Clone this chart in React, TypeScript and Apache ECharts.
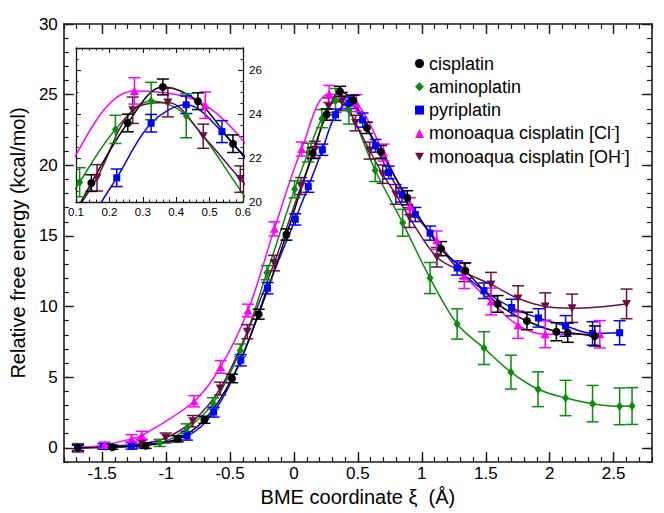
import React, { useEffect, useRef } from 'react';
import * as echarts from 'echarts';

// ---- data (x = BME coordinate, y = free energy, e = error) ----
const cisX = [-1.69, -1.42, -1.16, -0.91, -0.7, -0.485, -0.276, -0.059, 0.146, 0.255, 0.36, 0.465, 0.57, 0.68, 0.886, 1.15, 1.34, 1.593, 1.822, 2.052, 2.141, 2.353];
const cisY = [0, 0.05, 0.16, 0.64, 1.99, 4.91, 9.46, 15.1, 20.86, 23.59, 25.23, 24.58, 22.65, 20.95, 17.7, 14.1, 12.54, 10.19, 8.98, 8.22, 8.15, 7.92];
const cisE = [0.2, 0.15, 0.2, 0.22, 0.25, 0.3, 0.35, 0.4, 0.38, 0.4, 0.36, 0.38, 0.4, 0.45, 0.5, 0.5, 0.55, 0.59, 0.62, 0.64, 0.68, 0.71];

const aminoX = [-1.69, -1.47, -1.05, -0.84, -0.633, -0.42, -0.212, 0.005, 0.111, 0.218, 0.325, 0.43, 0.635, 0.85, 1.064, 1.276, 1.486, 1.697, 1.909, 2.124, 2.335, 2.547, 2.644];
const aminoY = [0, 0.1, 0.35, 1.35, 3.15, 6.9, 12.4, 18.3, 20.9, 23.3, 24.59, 23.92, 19.65, 15.93, 12.02, 8.77, 7.06, 5.36, 4.15, 3.53, 3.13, 2.94, 2.96];
const aminoE = [0.3, 0.2, 0.25, 0.35, 0.4, 0.45, 0.5, 0.6, 0.66, 0.64, 0.85, 1.0, 0.8, 0.95, 1.1, 1.07, 1.16, 1.2, 1.23, 1.25, 1.29, 1.3, 1.3];

const pyriX = [-1.69, -1.49, -1.27, -0.837, -0.628, -0.416, -0.207, 0.01, 0.112, 0.222, 0.325, 0.43, 0.537, 0.638, 0.74, 0.845, 0.949, 1.064, 1.276, 1.486, 1.702, 1.912, 2.124, 2.335, 2.547];
const pyriY = [0, 0.1, 0.16, 0.85, 2.53, 6.2, 11.3, 16.17, 18.49, 21.1, 23.58, 24.42, 23.2, 21.38, 19.49, 17.9, 16.52, 15.2, 12.73, 11.12, 9.93, 9.2, 8.63, 8.1, 8.15];
const pyriE = [0.2, 0.2, 0.25, 0.3, 0.35, 0.4, 0.4, 0.4, 0.4, 0.4, 0.4, 0.4, 0.5, 0.45, 0.45, 0.5, 0.5, 0.5, 0.5, 0.55, 0.59, 0.65, 0.73, 0.83, 0.85];

const clX = [-1.69, -1.48, -1.27, -1.19, -0.78, -0.574, -0.36, -0.153, 0.06, 0.275, 0.487, 0.7, 0.908, 1.116, 1.332, 1.541, 1.753, 1.965, 2.392];
const clY = [0, 0.21, 0.64, 0.87, 3.3, 5.73, 9.72, 15.5, 21.15, 25.05, 24.4, 20.9, 17.1, 14.7, 12.18, 10.36, 8.67, 8.04, 8.04];
const clE = [0.2, 0.2, 0.3, 0.3, 0.4, 0.45, 0.45, 0.5, 0.5, 0.6, 0.6, 0.6, 0.6, 0.65, 0.9, 0.95, 0.92, 0.95, 0.97];

const ohX = [-1.69, -1.19, -1.003, -0.791, -0.577, -0.365, -0.155, 0.056, 0.163, 0.27, 0.375, 0.481, 0.592, 0.694, 0.796, 0.903, 1.118, 1.332, 1.541, 1.753, 1.965, 2.175, 2.601];
const ohY = [0, 0.3, 0.7, 1.89, 4.2, 8.22, 13.08, 18.53, 21.1, 24.17, 24.52, 22.99, 21.04, 19.37, 17.94, 16.3, 13.49, 12.42, 11.57, 10.57, 10.0, 9.88, 10.19];
const ohE = [0.25, 0.3, 0.35, 0.4, 0.45, 0.5, 0.55, 0.6, 0.6, 0.6, 0.65, 0.55, 0.6, 0.65, 0.7, 0.7, 0.69, 0.65, 0.85, 0.9, 0.97, 1.0, 1.05];

const mainXTicks = [-1.5, -1, -0.5, 0, 0.5, 1, 1.5, 2, 2.5];
const mainYTicks = [0, 5, 10, 15, 20, 25, 30];

const seriesNames = ['cisplatin', 'aminoplatin', 'pyriplatin', 'monoaqua cisplatin [Cl-]', 'monoaqua cisplatin [OH-]'];

const FONT = '"Liberation Sans", Arial, Helvetica, sans-serif';
const FRAME = '#1a1a1a';
const DOWN_TRI = 'path://M0,0L10,0L5,9Z';

type DataSet = { name: string; color: string; symbol: string; size: any; xs: number[]; ys: number[]; es: number[] };

const sets: DataSet[] = [
  { name: seriesNames[1], color: '#0b8a0b', symbol: 'diamond', size: [7, 9], xs: aminoX, ys: aminoY, es: aminoE },
  { name: seriesNames[4], color: '#661141', symbol: DOWN_TRI, size: [9, 8], xs: ohX, ys: ohY, es: ohE },
  { name: seriesNames[2], color: '#0000ff', symbol: 'rect', size: 7, xs: pyriX, ys: pyriY, es: pyriE },
  { name: seriesNames[3], color: '#ff00ff', symbol: 'triangle', size: [9, 8], xs: clX, ys: clY, es: clE },
  { name: seriesNames[0], color: '#000000', symbol: 'circle', size: 8, xs: cisX, ys: cisY, es: cisE },
];

const errItem = (color: string, cap: number) => (params: any, api: any) => {
  const x = api.value(0);
  const y = api.value(1);
  const e = api.value(2);
  const p1 = api.coord([x, y + e]);
  const p2 = api.coord([x, y - e]);
  const style = { stroke: color, lineWidth: 1.5, fill: 'none' };
  return {
    type: 'group',
    children: [
      { type: 'line', shape: { x1: p1[0], y1: p1[1], x2: p2[0], y2: p2[1] }, style },
      { type: 'line', shape: { x1: p1[0] - cap, y1: p1[1], x2: p1[0] + cap, y2: p1[1] }, style },
      { type: 'line', shape: { x1: p2[0] - cap, y1: p2[1], x2: p2[0] + cap, y2: p2[1] }, style },
    ],
  };
};

const lineStyle = { color: FRAME, width: 1.6 };

function mainX(position: string, major: boolean, labels: boolean): any {
  const a: any = {
    gridIndex: 0, type: 'value', min: -1.8, max: 2.8, position,
    axisLine: { show: !major, onZero: false, lineStyle },
    splitLine: { show: false },
    axisTick: major
      ? { show: true, inside: true, length: 10, customValues: mainXTicks, lineStyle: { color: FRAME, width: 1.4 } }
      : { show: true, inside: true, length: 5, lineStyle: { color: FRAME, width: 1.2 } },
    axisLabel: labels
      ? { show: true, customValues: mainXTicks, fontSize: 17, color: '#000', fontFamily: FONT, margin: 3, formatter: (v: number) => String(v) }
      : { show: false },
  };
  if (!major) a.interval = 0.1;
  if (labels) {
    a.name = 'BME coordinate ξ  (Å)';
    a.nameLocation = 'middle';
    a.nameGap = 24;
    a.nameTextStyle = { fontSize: 20, color: '#000', fontFamily: FONT };
  }
  return a;
}

function mainY(position: string, major: boolean, labels: boolean): any {
  const a: any = {
    gridIndex: 0, type: 'value', min: -1, max: 30, position,
    axisLine: { show: !major, onZero: false, lineStyle },
    splitLine: { show: false },
    axisTick: major
      ? { show: true, inside: true, length: 10, customValues: mainYTicks, lineStyle: { color: FRAME, width: 1.4 } }
      : { show: true, inside: true, length: 5, lineStyle: { color: FRAME, width: 1.2 } },
    axisLabel: labels
      ? { show: true, customValues: mainYTicks, fontSize: 17, color: '#000', fontFamily: FONT, margin: 6 }
      : { show: false },
  };
  if (!major) a.interval = 1;
  if (labels) {
    a.name = 'Relative free energy (kcal/mol)';
    a.nameLocation = 'middle';
    a.nameGap = 31;
    a.nameTextStyle = { fontSize: 20, color: '#000', fontFamily: FONT };
  }
  return a;
}

function insetX(position: string, labels: boolean): any {
  return {
    gridIndex: 1, type: 'value', min: 0.1, max: 0.6, interval: 0.1, position,
    axisLine: { show: true, onZero: false, lineStyle: { color: FRAME, width: 1.3 } },
    splitLine: { show: false },
    axisTick: { show: true, inside: true, length: 5, lineStyle: { color: FRAME, width: 1.1 } },
    minorTick: { show: true, splitNumber: 5, length: 2.5, lineStyle: { color: FRAME, width: 1 } },
    axisLabel: labels
      ? { show: true, fontSize: 11.5, color: '#000', fontFamily: FONT, margin: 4, formatter: (v: number) => v.toFixed(1) }
      : { show: false },
  };
}

function insetY(position: string, labels: boolean): any {
  return {
    gridIndex: 1, type: 'value', min: 20, max: 27, interval: 2, position,
    axisLine: { show: true, onZero: false, lineStyle: { color: FRAME, width: 1.3 } },
    splitLine: { show: false },
    axisTick: { show: true, inside: true, length: 5, lineStyle: { color: FRAME, width: 1.1 } },
    minorTick: { show: true, splitNumber: 4, length: 2.5, lineStyle: { color: FRAME, width: 1 } },
    axisLabel: labels
      ? { show: true, fontSize: 11.5, color: '#000', fontFamily: FONT, margin: 6, formatter: (v: number) => (v > 26.5 ? '' : String(v)) }
      : { show: false },
  };
}

function buildSeries(): any[] {
  const out: any[] = [];
  const axesPairs = [
    { xi: 0, yi: 0 },
    { xi: 4, yi: 4 },
  ];
  axesPairs.forEach((ax) => {
    sets.forEach((s) => {
      const pts = s.xs.map((x, i) => [x, s.ys[i]]);
      const errs = s.xs.map((x, i) => [x, s.ys[i], s.es[i]]);
      out.push({
        type: 'line', name: s.name + ' fit', xAxisIndex: ax.xi, yAxisIndex: ax.yi,
        data: pts, smooth: 0.35, showSymbol: false, symbol: 'none', clip: true,
        lineStyle: { color: s.color, width: 1.5 }, silent: true, z: 2,
      });
      out.push({
        type: 'custom', name: s.name + ' err', xAxisIndex: ax.xi, yAxisIndex: ax.yi,
        data: errs, encode: { x: 0, y: 1 }, renderItem: errItem(s.color, 6), clip: true, silent: true, z: 3,
      });
      out.push({
        type: 'scatter', name: s.name, xAxisIndex: ax.xi, yAxisIndex: ax.yi,
        data: pts, symbol: s.symbol, symbolSize: s.size, clip: true,
        itemStyle: { color: s.color, opacity: 1 }, z: 4,
      });
    });
  });
  return out;
}

export default function App() {
  const ref = useRef<HTMLDivElement>(null);
  useEffect(() => {
    const chart = echarts.init(ref.current!, null, { renderer: 'svg' });
    const option: any = {
      animation: false,
      backgroundColor: '#ffffff',
      textStyle: { fontFamily: FONT },
      grid: [
        { left: 52, top: 24, width: 600, height: 438, containLabel: false },
        { left: 76, top: 48, width: 167, height: 154, containLabel: false },
      ],
      xAxis: [
        mainX('bottom', false, false),
        mainX('bottom', true, true),
        mainX('top', false, false),
        mainX('top', true, false),
        insetX('bottom', true),
        insetX('top', false),
      ],
      yAxis: [
        mainY('left', false, false),
        mainY('left', true, true),
        mainY('right', false, false),
        mainY('right', true, false),
        insetY('left', false),
        insetY('right', true),
      ],
      legend: {
        data: seriesNames,
        orient: 'vertical',
        left: 410,
        top: 48,
        itemWidth: 9,
        itemHeight: 9,
        itemGap: 2.3,
        selectedMode: false,
        formatter: (name: string) => {
          if (name === seriesNames[3]) return 'monoaqua cisplatin [Cl{s|-}]';
          if (name === seriesNames[4]) return 'monoaqua cisplatin [OH{s|-}]';
          return name;
        },
        textStyle: {
          fontSize: 18, color: '#000', fontFamily: FONT, lineHeight: 21,
          rich: { s: { fontSize: 11, color: '#000', fontFamily: FONT, verticalAlign: 'top', lineHeight: 12 } },
        },
      },
      series: buildSeries(),
    };
    chart.setOption(option);
    return () => chart.dispose();
  }, []);
  return <div ref={ref} style={{ position: 'fixed', left: 0, top: 0, width: 664, height: 513 }} />;
}
